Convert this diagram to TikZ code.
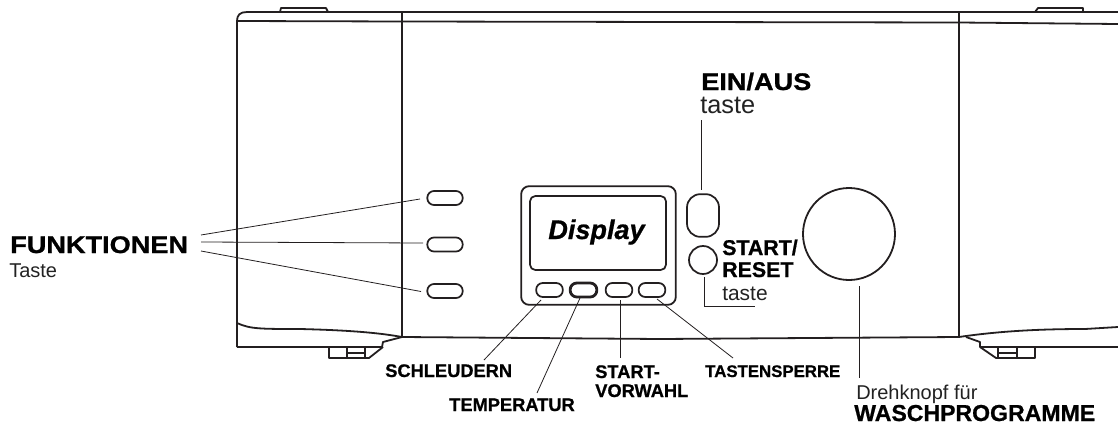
\documentclass[tikz,border=0pt]{standalone}
\usepackage{fontspec}
\setmainfont{Liberation Sans}
\newfontfamily\blk[FakeBold=0.8]{Liberation Sans Bold}
\newfontfamily\blkwide[FakeBold=1,FakeStretch=1.13]{Liberation Sans Bold}
\newfontfamily\blkit[FakeBold=0.8]{Liberation Sans Bold Italic}
\definecolor{ink}{HTML}{231F20}
\definecolor{soft}{HTML}{222222}
\tikzset{
  body/.style={draw=ink,line width=1.35pt,line join=round},
  btn/.style={draw=ink,line width=1.3pt,rounded corners=5pt,inner sep=0pt,minimum height=10.5pt,minimum width=20pt},
  fbtn/.style={btn,minimum width=26.5pt},
  leader/.style={draw=ink,line width=0.6pt},
  lbl/.style={inner sep=0pt,anchor=base west,text=black},
  head/.style={lbl,font=\blkwide\fontsize{18}{18}\selectfont},
  small/.style={lbl,font=\blk\fontsize{13.7}{13.7}\selectfont},
  light/.style={lbl,text=soft,font=\fontsize{15}{15}\selectfont},
}
\begin{document}
\begin{tikzpicture}[x=0.75pt,y=-0.75pt]
\useasboundingbox (0,0) rectangle (1118,425);
% housing
\draw[body] (237,347) -- (237,21) .. controls (237,15) and (240,12) .. (247,12) -- (1118,12);
\draw[body] (237,21) -- (402,21.5) -- (959,22.5) -- (1118,24);
\draw[body] (280,12) -- (281,8) -- (326,8) -- (328,12);
\draw[body] (1035,12) -- (1038,8) -- (1083,8) -- (1083,12);
\draw[body] (402,12) -- (402,337);
\draw[body] (959,12) -- (959,337);
\draw[body] (237,323) .. controls (250,329) and (260,329) .. (300,329) .. controls (340,330) and (375,332) .. (402,337);
\draw[body] (402,337) -- (660,339) -- (959,337);
\draw[body] (959,337) .. controls (1000,331) and (1040,329) .. (1085,329) -- (1118,327);
\draw[body] (237,347) -- (382,347) -- (383,342) -- (402,337);
\draw[body] (329,347) -- (329,358) -- (369,358) -- (383,347);
\draw[body] (347,347) -- (347,358) (365,347) -- (365,358) (347,353) -- (365,353);
\draw[body] (966,337) -- (980,342) -- (980,347) -- (1118,347);
\draw[body] (980,347) -- (996,358) -- (1035,358) -- (1035,347);
\draw[body] (998,347) -- (998,358) (1017,347) -- (1017,358) (998,353) -- (1017,353);
% function buttons
\node[fbtn] (f1) at (445,198) {};
\node[fbtn] (f2) at (445,244.5) {};
\node[fbtn] (f3) at (445,291) {};
% display
\node[draw=ink,line width=1.35pt,rounded corners=6pt,minimum width=116pt,minimum height=89pt,inner sep=0pt] (panel) at (598.5,245.5) {};
\node[draw=ink,line width=1.3pt,rounded corners=4pt,minimum width=102pt,minimum height=55.5pt,inner sep=0pt] (screen) at (598,233) {};
\node[inner sep=0pt,font=\blkit\fontsize{20.3}{20.3}\selectfont] (dtext) at (596.5,232) {Display};
\node[btn] (b1) at (549.5,290) {};
\node[btn,line width=2.1pt] (b2) at (583.5,290) {};
\node[btn] (b3) at (619,290) {};
\node[btn] (b4) at (652,290) {};
% power, start, knob
\node[draw=ink,line width=1.3pt,rounded corners=10pt,minimum width=24pt,minimum height=32pt,inner sep=0pt] (power) at (703,215.5) {};
\node[draw=ink,line width=1.3pt,circle,minimum size=21pt,inner sep=0pt] (start) at (703,260) {};
\node[draw=ink,line width=1.35pt,circle,minimum size=69pt,inner sep=0pt] (knob) at (849,234) {};
% labels
\node[head] (lfunk) at (10,253) {FUNKTIONEN};
\node[light] (ltaste) at (9,277) {Taste};
\node[head] (lein) at (701,90) {EIN/AUS};
\node[light,font=\fontsize{19}{19}\selectfont] (lein2) at (700,113) {taste};
\node[lbl,font=\blk\fontsize{16}{16}\selectfont] (lstart) at (722,255) {START/};
\node[lbl,font=\blk\fontsize{16}{16}\selectfont] (lreset) at (722,277) {RESET};
\node[light,font=\fontsize{15.7}{15.7}\selectfont] (lstart2) at (722,300) {taste};
\node[small] (ls) at (385,377) {SCHLEUDERN};
\node[small] (lt) at (449,411) {TEMPERATUR};
\node[small] (lv1) at (595,378) {START-};
\node[small] (lv2) at (595,397) {VORWAHL};
\node[small,font=\blk\fontsize{12.6}{12.6}\selectfont] (lk) at (705,377) {TASTENSPERRE};
\node[light] (ld) at (856,399) {Drehknopf für};
\node[lbl,font=\blk\fontsize{17.3}{17.3}\selectfont] (lw) at (854,421) {WASCHPROGRAMME};
% leaders
\coordinate (fa) at (201,235); \coordinate (fb) at (201,242); \coordinate (fc) at (201,251);
\coordinate (fa2) at (420,199); \coordinate (fb2) at (423,243); \coordinate (fc2) at (421,291.5);
\draw[leader] (fa) -- (fa2);
\draw[leader] (fb) -- (fb2);
\draw[leader] (fc) -- (fc2);
\coordinate (s0) at (541,300); \coordinate (s1) at (484,360);
\coordinate (t0) at (580,298); \coordinate (t1) at (537,393);
\coordinate (v0) at (620,300); \coordinate (v1) at (620,358);
\coordinate (k0) at (657,299); \coordinate (k1) at (733,358);
\draw[leader] (s0) -- (s1);
\draw[leader] (t0) -- (t1);
\draw[leader] (v0) -- (v1);
\draw[leader] (k0) -- (k1);
\coordinate (e0) at (701,120); \coordinate (e1) at (701,190);
\draw[leader,line width=0.7pt] (e0) -- (e1);
\coordinate (r0) at (704,277); \coordinate (r1) at (704,306); \coordinate (r2) at (755,306);
\draw[leader] (r0) -- (r1) -- (r2);
\coordinate (d0) at (859,286); \coordinate (d1) at (859,378);
\draw[leader,line width=0.7pt] (d0) -- (d1);
\end{tikzpicture}
\end{document}
